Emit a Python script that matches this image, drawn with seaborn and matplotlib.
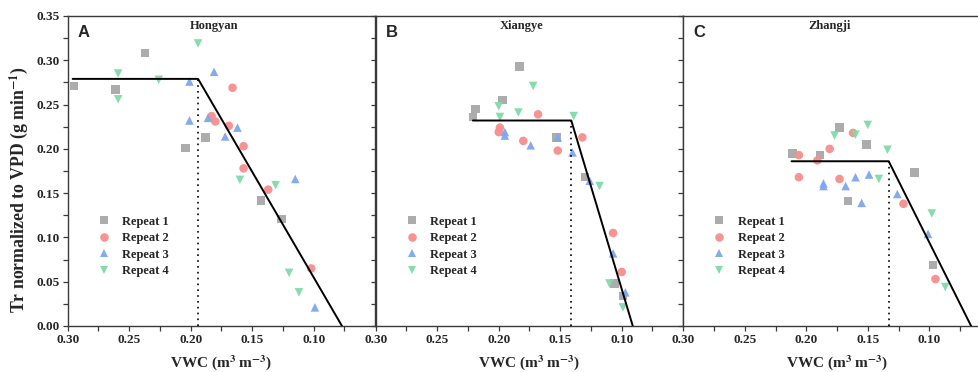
"""
Tr normalized to VPD vs soil VWC for three sites, with segmented fits
"""

import numpy as np
import pandas as pd
import matplotlib
matplotlib.use('Agg')
import matplotlib.pyplot as plt
from matplotlib.ticker import MultipleLocator, FixedLocator
import seaborn as sns

sns.set_style('ticks')
plt.rcParams['font.family'] = ['Liberation Serif', 'DejaVu Serif']
plt.rcParams['mathtext.fontset'] = 'stix'

sites = ['Hongyan', 'Xiangye', 'Zhangji']
panel_letters = ['A', 'B', 'C']
repeats = ['Repeat 1', 'Repeat 2', 'Repeat 3', 'Repeat 4']
x_ticks = [0.30, 0.25, 0.20, 0.15, 0.10]

# --- Hongyan (A) ---
a_vwc = {
    'Repeat 1': [0.295, 0.261, 0.237, 0.204, 0.188, 0.143, 0.126],
    'Repeat 2': [0.166, 0.183, 0.180, 0.169, 0.157, 0.157, 0.137, 0.102],
    'Repeat 3': [0.201, 0.181, 0.201, 0.186, 0.172, 0.162, 0.115, 0.099],
    'Repeat 4': [0.194, 0.259, 0.259, 0.226, 0.160, 0.131, 0.120, 0.112],
}
a_tr = {
    'Repeat 1': [0.271, 0.267, 0.308, 0.201, 0.213, 0.142, 0.121],
    'Repeat 2': [0.269, 0.237, 0.231, 0.226, 0.203, 0.178, 0.154, 0.065],
    'Repeat 3': [0.276, 0.287, 0.232, 0.235, 0.214, 0.224, 0.166, 0.021],
    'Repeat 4': [0.319, 0.285, 0.256, 0.278, 0.165, 0.159, 0.060, 0.038],
}

# --- Xiangye (B) ---
b_vwc = {
    'Repeat 1': [0.221, 0.219, 0.197, 0.183, 0.153, 0.130, 0.106, 0.099],
    'Repeat 2': [0.199, 0.200, 0.180, 0.168, 0.152, 0.132, 0.107, 0.100],
    'Repeat 3': [0.195, 0.195, 0.174, 0.152, 0.140, 0.126, 0.107, 0.097],
    'Repeat 4': [0.200, 0.199, 0.184, 0.172, 0.139, 0.118, 0.110, 0.099],
}
b_tr = {
    'Repeat 1': [0.236, 0.245, 0.255, 0.293, 0.213, 0.168, 0.048, 0.034],
    'Repeat 2': [0.224, 0.219, 0.209, 0.239, 0.198, 0.213, 0.105, 0.061],
    'Repeat 3': [0.219, 0.215, 0.204, 0.213, 0.196, 0.164, 0.082, 0.038],
    'Repeat 4': [0.248, 0.236, 0.241, 0.271, 0.237, 0.158, 0.048, 0.021],
}

# --- Zhangji (C) ---
c_vwc = {
    'Repeat 1': [0.211, 0.189, 0.173, 0.151, 0.112, 0.166, 0.097],
    'Repeat 2': [0.206, 0.191, 0.181, 0.162, 0.206, 0.173, 0.121, 0.095],
    'Repeat 3': [0.186, 0.186, 0.168, 0.160, 0.149, 0.155, 0.126, 0.101],
    'Repeat 4': [0.177, 0.160, 0.150, 0.134, 0.141, 0.098, 0.087],
}
c_tr = {
    'Repeat 1': [0.195, 0.193, 0.224, 0.205, 0.173, 0.141, 0.069],
    'Repeat 2': [0.193, 0.187, 0.200, 0.218, 0.168, 0.166, 0.138, 0.053],
    'Repeat 3': [0.161, 0.158, 0.158, 0.168, 0.171, 0.139, 0.149, 0.104],
    'Repeat 4': [0.215, 0.216, 0.227, 0.199, 0.166, 0.127, 0.044],
}

# segmented fit lines: start, breakpoint, zero crossing
fit_vwc = [[0.296, 0.194, 0.077], [0.221, 0.141, 0.091], [0.212, 0.133, 0.066]]
fit_tr = [[0.279, 0.279, 0.0], [0.232, 0.232, 0.0], [0.186, 0.186, 0.0]]

palette = {'Repeat 1': '#a8a8a8', 'Repeat 2': '#f68e8e',
           'Repeat 3': '#7fa7ee', 'Repeat 4': '#80dba8'}
markers = {'Repeat 1': 's', 'Repeat 2': 'o', 'Repeat 3': '^', 'Repeat 4': 'v'}

frames = []
for site, vw, tr in zip(sites, [a_vwc, b_vwc, c_vwc], [a_tr, b_tr, c_tr]):
    for rep in repeats:
        frames.append(pd.DataFrame({'site': site, 'repeat': rep,
                                    'vwc': vw[rep], 'tr': tr[rep]}))
df = pd.concat(frames, ignore_index=True)

fig = plt.figure(figsize=(9.79, 3.72), dpi=100)
W, H = 979, 372
ax_left = [67.7, 375.7, 683.3]
ax_w = 307.5
ax_bottom = 46
ax_h = 310

spine_col = '#3a3a3a'
bold_serif = {'family': 'Liberation Serif', 'weight': 'bold'}

for i, site in enumerate(sites):
    ax = fig.add_axes([ax_left[i] / W, ax_bottom / H, ax_w / W, ax_h / H])
    sub = df[df['site'] == site]
    sns.scatterplot(data=sub, x='vwc', y='tr', hue='repeat', style='repeat',
                    hue_order=repeats, style_order=repeats,
                    palette=palette, markers=markers, s=38, linewidth=0,
                    alpha=0.95, ax=ax, zorder=2)

    ax.plot(fit_vwc[i], fit_tr[i], color='black', lw=1.4, zorder=3)
    ax.plot([fit_vwc[i][1], fit_vwc[i][1]], [0, fit_tr[i][1]],
            color='black', lw=1.2, ls=(0, (1, 2.5)), zorder=3)

    ax.set_xlim(0.30, 0.05)
    ax.set_ylim(0, 0.35)
    ax.xaxis.set_major_locator(FixedLocator(x_ticks))
    ax.xaxis.set_minor_locator(FixedLocator([0.275, 0.225, 0.175, 0.125, 0.075]))
    ax.yaxis.set_major_locator(MultipleLocator(0.05))
    ax.yaxis.set_minor_locator(MultipleLocator(0.025))
    ax.xaxis.set_major_formatter(plt.FormatStrFormatter('%.2f'))
    ax.yaxis.set_major_formatter(plt.FormatStrFormatter('%.2f'))

    ax.tick_params(axis='both', which='both', direction='out', length=3.5,
                   width=0.9, color=spine_col, labelsize=9.5, pad=2)
    for t in ax.get_xticklabels() + ax.get_yticklabels():
        t.set_fontweight('bold')
    if i > 0:
        ax.tick_params(axis='y', labelleft=False)
        ax.set_ylabel('')
    else:
        ax.set_ylabel('Tr normalized to VPD (g min$^{\\mathbf{-1}}$)',
                      fontsize=12.8, fontweight='bold', labelpad=4)
        ax.yaxis.set_label_coords(-0.123, 0.44)

    for sp in ax.spines.values():
        sp.set_color(spine_col)
        sp.set_linewidth(1.0)

    ax.set_xlabel('VWC (m$^{\\mathbf{3}}$ m$^{\\mathbf{-3}}$)',
                  fontsize=11, fontweight='bold', labelpad=5)

    ax.text(0.475, 0.968, site, transform=ax.transAxes, ha='center', va='center',
            fontsize=9, **bold_serif)
    ax.text(0.033, 0.948, panel_letters[i], transform=ax.transAxes,
            ha='left', va='center', fontsize=12, fontweight='bold',
            family='Liberation Sans')

    sns.move_legend(ax, 'center left', bbox_to_anchor=(0.04, 0.257),
                    frameon=False, title=None, handletextpad=0.5,
                    labelspacing=0.35, markerscale=1.0,
                    prop={'family': 'Liberation Serif', 'weight': 'bold', 'size': 9})

fig.savefig('out.png', dpi=100)
